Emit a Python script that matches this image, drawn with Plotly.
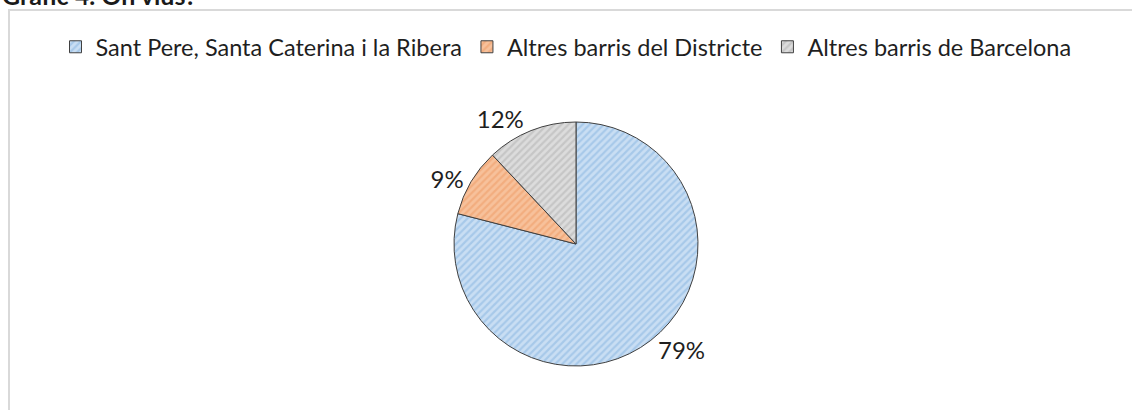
import plotly.graph_objects as go

# =============================================================================
# DATA
# =============================================================================

LABELS = [
    "Sant Pere, Santa Caterina i la Ribera",
    "Altres barris del Districte",
    "Altres barris de Barcelona",
]
VALUES = [79, 9, 12]

TITLE = "Gràfic 4. On vius?"

# =============================================================================
# STYLE
# =============================================================================

W, H = 1132, 410
FONT = "Lato, 'Noto Sans', Arial, sans-serif"
TEXT = "#1f1f1f"

BG_COLORS = ["#c9def3", "#f7c19b", "#dcdcdc"]
FG_COLORS = ["#86b3e0", "#ee9a63", "#b0b0b0"]

# pie centre / radius in pixels
CX, CY, R = 576, 244, 122


def px_x(v):
    return v / W


def px_y(v):
    return 1 - v / H


fig = go.Figure()

fig.add_trace(
    go.Pie(
        labels=LABELS,
        values=VALUES,
        sort=False,
        direction="clockwise",
        rotation=0,
        textposition="outside",
        textinfo="percent",
        texttemplate="%{percent:.0%}",
        textfont=dict(family=FONT, size=24, color=TEXT),
        marker=dict(
            colors=BG_COLORS,
            line=dict(color="#404040", width=1),
            pattern=dict(
                shape="/",
                fgcolor=FG_COLORS,
                bgcolor=BG_COLORS,
                size=5,
                solidity=0.45,
                fillmode="overlay",
            ),
        ),
        domain=dict(
            x=[px_x(CX - R), px_x(CX + R)],
            y=[px_y(CY + R), px_y(CY - R)],
        ),
        showlegend=True,
    )
)

# chart frame (runs off the right and bottom edges)
fig.add_shape(
    type="rect",
    xref="paper",
    yref="paper",
    x0=px_x(9),
    x1=1.2,
    y0=-0.2,
    y1=px_y(10),
    line=dict(color="#d9d9d9", width=2),
    fillcolor="rgba(0,0,0,0)",
    layer="below",
)

# title, mostly cropped off the top
fig.add_annotation(
    text=TITLE,
    xref="paper",
    yref="paper",
    x=px_x(0),
    y=px_y(-5),
    xanchor="left",
    yanchor="middle",
    showarrow=False,
    font=dict(family=FONT, size=25, color="#1a1a1a", weight="bold"),
)

fig.update_layout(
    width=W,
    height=H,
    paper_bgcolor="white",
    plot_bgcolor="white",
    margin=dict(l=0, r=0, t=0, b=0),
    font=dict(family=FONT, color=TEXT),
    legend=dict(
        orientation="h",
        x=0.5,
        xanchor="center",
        y=px_y(47),
        yanchor="middle",
        font=dict(family=FONT, size=23.5, color=TEXT),
        itemwidth=30,
        tracegroupgap=0,
    ),
)

fig.write_html(
    "out.html",
    config={"displayModeBar": False},
    post_script="document.body.style.margin='0';",
)
